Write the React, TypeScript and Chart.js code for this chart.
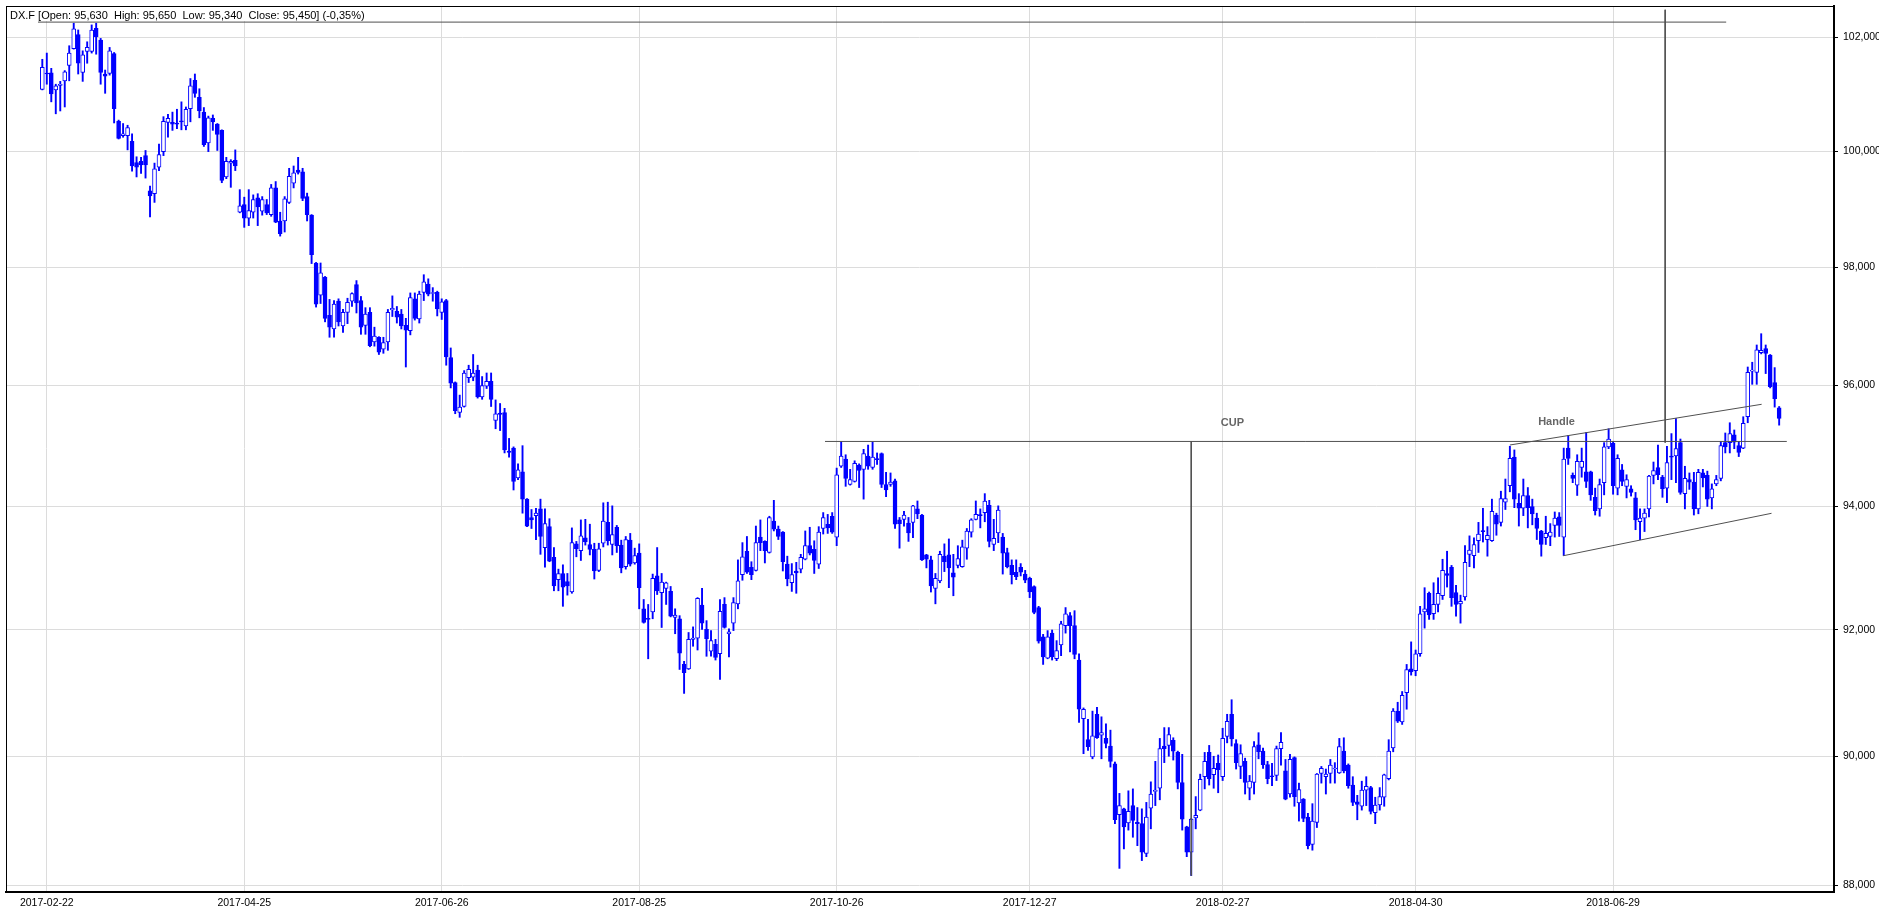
import React, { useEffect, useRef } from 'react';
import { Chart, registerables } from 'chart.js';

Chart.register(...registerables);

// ---- Daily OHLC of DX.F (one entry per trading day, oldest first) ----
const OPEN = [
  101.08, 101.36, 101.37, 101.07, 101.15, 101.23, 101.50, 101.80, 102.05, 101.38,
  101.75, 101.75, 102.16, 101.95, 101.35, 101.36, 101.71, 100.52, 100.27, 100.27,
  100.17, 99.80, 99.82, 99.92, 99.31, 99.26, 99.72, 99.99, 100.50, 100.50,
  100.48, 100.52, 100.44, 100.74, 101.24, 100.94, 100.68, 100.14, 100.57, 100.47,
  100.36, 99.55, 99.79, 99.84, 98.94, 99.07, 98.84, 98.94, 99.19, 98.96,
  99.07, 98.90, 99.36, 98.79, 98.79, 99.11, 99.44, 99.67, 99.64, 99.21,
  98.89, 98.07, 97.52, 97.83, 97.18, 96.95, 97.42, 97.00, 97.23, 97.42,
  97.70, 97.43, 97.01, 97.23, 96.73, 96.81, 96.61, 96.73, 97.27, 97.25,
  97.20, 97.01, 96.92, 97.46, 97.12, 97.57, 97.71, 97.55, 97.57, 97.23,
  97.43, 96.47, 96.05, 95.55, 95.65, 96.13, 96.14, 96.26, 95.81, 95.99,
  96.07, 95.42, 95.54, 95.55, 94.91, 94.96, 94.47, 94.57, 94.12, 93.82,
  93.85, 93.96, 93.33, 93.67, 93.17, 92.81, 92.91, 92.78, 92.61, 93.39,
  93.28, 93.49, 93.38, 93.30, 92.96, 93.40, 93.74, 93.38, 93.66, 93.37,
  93.02, 93.45, 93.08, 93.24, 92.34, 92.18, 92.29, 92.87, 92.60, 92.67,
  92.62, 92.20, 92.18, 91.45, 91.38, 91.85, 91.87, 92.40, 92.01, 91.66,
  91.77, 91.62, 92.41, 91.94, 92.11, 92.42, 92.89, 93.27, 93.01, 92.96,
  93.50, 93.43, 93.25, 93.76, 93.63, 93.58, 93.06, 92.76, 92.95, 92.98,
  93.14, 93.36, 93.30, 93.06, 93.64, 93.71, 93.84, 93.50, 94.66, 94.78,
  94.36, 94.41, 94.68, 94.61, 94.83, 94.64, 94.78, 94.87, 94.36, 94.36,
  94.42, 93.78, 93.79, 93.73, 93.74, 93.96, 93.86, 93.21, 93.13, 92.67,
  92.79, 93.19, 93.21, 92.92, 93.04, 93.02, 93.32, 93.58, 93.79, 93.86,
  93.90, 94.02, 93.38, 93.57, 93.50, 93.25, 93.04, 92.93, 93.01, 92.90,
  92.83, 92.70, 92.36, 91.89, 91.55, 91.95, 91.54, 91.76, 92.07, 92.23,
  92.07, 91.52, 90.59, 90.26, 89.99, 90.66, 90.33, 90.28, 90.16, 89.88,
  89.09, 89.18, 88.96, 89.23, 88.97, 88.95, 88.49, 89.19, 89.45, 89.50,
  90.16, 90.17, 90.25, 90.06, 89.59, 88.90, 88.51, 89.04, 89.16, 89.68,
  90.06, 89.71, 89.89, 89.68, 90.31, 90.66, 90.20, 89.84, 89.92, 89.50,
  89.59, 90.18, 90.08, 89.87, 89.69, 89.70, 90.12, 89.77, 89.41, 89.98,
  89.27, 89.33, 89.05, 88.63, 88.97, 89.73, 89.68, 89.73, 89.80, 89.74,
  90.08, 89.86, 89.55, 89.29, 89.22, 89.47, 89.51, 89.12, 89.24, 89.36,
  89.65, 90.13, 90.71, 90.54, 91.00, 91.38, 91.35, 91.62, 92.29, 92.59,
  92.26, 92.41, 92.55, 92.91, 93.01, 92.60, 92.42, 92.53, 93.22, 93.20,
  93.44, 93.60, 93.46, 93.44, 93.86, 93.74, 94.07, 94.34, 94.81, 94.05,
  93.97, 94.18, 94.00, 93.81, 93.60, 93.49, 93.51, 93.69, 93.83, 93.50,
  94.96, 94.51, 94.35, 94.64, 94.57, 94.57, 94.15, 93.96, 94.39, 94.98,
  95.04, 94.30, 94.60, 94.33, 94.29, 94.14, 93.75, 93.81, 93.96, 94.51,
  94.64, 94.48, 94.30, 94.83, 94.83, 95.05, 94.21, 94.44, 94.40, 93.96,
  94.55, 94.51, 94.14, 94.37, 94.46, 95.05, 95.05, 95.18, 95.00, 94.96,
  95.48, 96.24, 96.22, 96.55, 96.62, 96.51, 96.05, 95.63,
];

const HIGH = [
  101.61, 101.72, 101.45, 101.17, 101.22, 101.41, 101.85, 102.25, 102.13, 101.76,
  101.92, 102.22, 102.25, 101.98, 101.42, 101.82, 101.73, 100.54, 100.48, 100.45,
  100.30, 99.90, 99.89, 100.01, 99.39, 99.79, 100.12, 100.60, 100.64, 100.68,
  100.73, 100.86, 100.77, 101.27, 101.35, 101.09, 100.76, 100.61, 100.63, 100.48,
  100.37, 99.89, 99.85, 100.02, 99.33, 99.20, 99.33, 99.24, 99.26, 99.21,
  99.16, 99.42, 99.47, 98.94, 99.21, 99.70, 99.74, 99.89, 99.70, 99.27,
  98.90, 98.08, 98.07, 97.84, 97.45, 97.43, 97.46, 97.28, 97.47, 97.56,
  97.77, 97.50, 97.31, 97.31, 96.98, 96.82, 96.81, 97.28, 97.51, 97.33,
  97.28, 97.13, 97.56, 97.56, 97.59, 97.87, 97.80, 97.65, 97.59, 97.46,
  97.45, 96.63, 96.06, 95.84, 96.25, 96.34, 96.52, 96.34, 96.15, 96.21,
  96.21, 95.76, 95.70, 95.62, 95.12, 94.98, 94.70, 95.00, 94.13, 93.95,
  93.97, 94.12, 93.96, 93.80, 93.33, 92.98, 93.05, 92.91, 93.65, 93.43,
  93.78, 93.79, 93.71, 93.40, 93.40, 94.06, 94.07, 94.01, 93.69, 93.45,
  93.51, 93.56, 93.32, 93.39, 92.49, 92.41, 92.90, 93.33, 92.91, 92.77,
  92.70, 92.34, 92.23, 91.50, 91.96, 92.05, 92.52, 92.67, 92.15, 91.99,
  91.85, 92.49, 92.52, 92.02, 92.52, 93.13, 93.41, 93.51, 93.10, 93.68,
  93.78, 93.44, 93.84, 94.10, 93.68, 93.59, 93.19, 93.07, 93.09, 93.22,
  93.60, 93.66, 93.44, 93.67, 93.90, 93.87, 93.90, 94.63, 95.07, 94.85,
  94.61, 94.75, 94.70, 94.94, 95.01, 95.06, 94.88, 94.88, 94.56, 94.55,
  94.45, 93.82, 93.92, 93.82, 94.02, 94.09, 93.87, 93.22, 93.19, 92.91,
  93.27, 93.39, 93.47, 93.22, 93.36, 93.45, 93.64, 93.80, 94.09, 93.96,
  94.21, 94.10, 93.79, 94.01, 93.56, 93.32, 93.13, 93.13, 93.07, 92.96,
  92.85, 92.71, 92.38, 91.93, 91.99, 92.00, 91.83, 92.14, 92.36, 92.28,
  92.31, 91.62, 90.76, 90.58, 90.71, 90.77, 90.62, 90.51, 90.41, 89.91,
  89.42, 89.19, 89.46, 89.49, 89.20, 89.18, 89.28, 89.60, 89.92, 90.28,
  90.45, 90.45, 90.29, 90.08, 90.03, 88.91, 89.03, 89.37, 89.72, 90.06,
  90.17, 90.00, 90.02, 90.44, 90.66, 90.89, 90.26, 90.18, 89.97, 89.70,
  90.23, 90.37, 90.13, 89.92, 89.89, 90.16, 90.37, 89.95, 90.03, 89.99,
  89.58, 89.34, 89.11, 89.26, 89.73, 89.84, 89.80, 89.95, 89.90, 90.28,
  90.29, 89.88, 89.68, 89.39, 89.61, 89.68, 89.53, 89.36, 89.51, 89.72,
  90.26, 90.75, 90.85, 91.02, 91.45, 91.81, 91.68, 92.38, 92.68, 92.61,
  92.76, 92.84, 93.14, 93.27, 93.04, 92.72, 92.56, 93.36, 93.52, 93.49,
  93.74, 93.97, 93.67, 94.12, 93.89, 94.25, 94.45, 94.99, 94.93, 94.21,
  94.45, 94.31, 94.12, 93.89, 93.61, 93.84, 93.72, 93.91, 93.90, 94.96,
  95.17, 94.55, 94.85, 94.96, 95.22, 94.58, 94.30, 94.45, 95.05, 95.28,
  95.07, 94.85, 94.69, 94.52, 94.34, 94.23, 93.96, 93.96, 94.51, 94.73,
  95.01, 94.51, 94.99, 95.20, 95.45, 95.11, 94.66, 94.55, 94.56, 94.61,
  94.61, 94.58, 94.37, 94.51, 95.07, 95.21, 95.38, 95.26, 95.07, 95.48,
  96.31, 96.39, 96.68, 96.87, 96.68, 96.52, 96.30, 95.65,
];

const LOW = [
  101.07, 101.17, 100.86, 100.65, 100.70, 100.77, 101.23, 101.79, 101.35, 101.22,
  101.54, 101.72, 101.70, 101.17, 101.01, 101.33, 100.49, 100.21, 100.24, 100.02,
  99.65, 99.55, 99.61, 99.53, 98.86, 99.11, 99.66, 99.92, 100.24, 100.36,
  100.39, 100.37, 100.37, 100.51, 100.94, 100.58, 100.08, 99.99, 100.36, 100.01,
  99.45, 99.52, 99.37, 99.66, 98.93, 98.68, 98.71, 98.84, 98.71, 98.89,
  98.90, 98.87, 98.76, 98.53, 98.60, 99.09, 99.36, 99.60, 99.14, 98.79,
  98.06, 97.32, 97.38, 97.07, 96.81, 96.81, 97.00, 96.89, 97.04, 97.33,
  97.22, 96.86, 96.86, 96.65, 96.66, 96.52, 96.54, 96.59, 97.16, 97.05,
  96.95, 96.31, 96.85, 97.10, 97.05, 97.43, 97.51, 97.42, 97.17, 97.11,
  96.34, 95.96, 95.53, 95.47, 95.64, 96.05, 96.08, 95.79, 95.77, 95.95,
  95.65, 95.28, 95.25, 94.88, 94.81, 94.27, 94.44, 93.89, 93.67, 93.64,
  93.46, 93.22, 93.01, 93.10, 92.63, 92.63, 92.38, 92.56, 92.59, 93.18,
  93.12, 93.37, 93.21, 92.82, 92.94, 93.34, 93.37, 93.21, 93.25, 92.92,
  92.98, 93.03, 93.06, 92.34, 92.11, 91.54, 92.18, 92.57, 92.04, 92.41,
  92.21, 91.94, 91.37, 90.99, 91.37, 91.74, 91.68, 92.01, 91.58, 91.58,
  91.52, 91.21, 92.03, 91.57, 91.99, 92.34, 92.80, 92.91, 92.81, 92.95,
  93.28, 93.08, 93.24, 93.60, 93.46, 92.95, 92.71, 92.62, 92.59, 92.92,
  93.13, 93.21, 92.91, 92.99, 93.55, 93.56, 93.56, 93.36, 94.64, 94.33,
  94.35, 94.40, 94.31, 94.12, 94.61, 94.61, 94.69, 94.31, 94.16, 94.33,
  93.64, 93.32, 93.68, 93.43, 93.49, 93.80, 93.12, 93.00, 92.61, 92.42,
  92.76, 92.94, 92.68, 92.55, 93.00, 93.01, 93.14, 93.50, 93.78, 93.65,
  93.75, 93.34, 93.28, 93.41, 92.90, 93.00, 92.74, 92.81, 92.87, 92.76,
  92.52, 92.26, 91.79, 91.45, 91.54, 91.52, 91.51, 91.59, 91.95, 91.65,
  91.54, 90.53, 90.04, 90.09, 89.96, 90.28, 89.96, 90.13, 89.83, 88.95,
  88.26, 88.56, 88.85, 88.74, 88.61, 88.38, 88.44, 88.87, 89.23, 89.32,
  89.90, 90.00, 89.94, 89.49, 88.85, 88.44, 88.15, 88.87, 89.15, 89.49,
  89.55, 89.50, 89.43, 89.62, 90.21, 90.16, 89.80, 89.65, 89.41, 89.32,
  89.41, 89.96, 89.81, 89.57, 89.54, 89.62, 89.86, 89.32, 89.36, 89.22,
  88.99, 88.98, 88.56, 88.54, 88.89, 89.58, 89.41, 89.58, 89.58, 89.73,
  89.74, 89.50, 89.23, 89.01, 89.16, 89.23, 89.10, 88.95, 89.16, 89.22,
  89.63, 90.07, 90.53, 90.50, 90.74, 91.28, 91.27, 91.58, 92.03, 92.17,
  92.17, 92.29, 92.49, 92.69, 92.38, 92.22, 92.11, 92.48, 93.02, 93.00,
  93.25, 93.42, 93.19, 93.43, 93.53, 93.68, 93.95, 94.24, 93.98, 93.68,
  93.85, 93.65, 93.70, 93.46, 93.19, 93.38, 93.36, 93.50, 93.51, 93.20,
  94.69, 94.39, 94.18, 94.48, 94.31, 94.10, 93.86, 93.84, 94.19, 94.95,
  94.20, 94.19, 94.34, 94.14, 94.17, 93.62, 93.46, 93.59, 93.83, 94.37,
  94.44, 94.15, 94.06, 94.44, 94.39, 94.20, 93.96, 94.28, 93.86, 93.88,
  94.32, 94.00, 93.96, 94.34, 94.42, 94.88, 94.88, 94.95, 94.82, 94.95,
  95.38, 96.02, 96.02, 96.53, 96.20, 95.96, 95.64, 95.34,
];

const CLOSE = [
  101.47, 101.35, 101.00, 101.14, 101.17, 101.39, 101.72, 102.15, 101.54, 101.69,
  101.82, 102.13, 102.01, 101.38, 101.31, 101.76, 100.74, 100.22, 100.30, 100.41,
  99.74, 99.72, 99.76, 99.76, 99.22, 99.69, 99.94, 100.52, 100.57, 100.47,
  100.47, 100.51, 100.73, 101.14, 101.01, 100.70, 100.11, 100.58, 100.51, 100.29,
  99.49, 99.82, 99.82, 99.74, 99.05, 98.84, 98.97, 99.16, 99.03, 99.16,
  98.93, 99.36, 98.77, 98.57, 99.17, 99.56, 99.62, 99.63, 99.18, 98.90,
  98.21, 97.37, 97.90, 97.13, 96.98, 97.37, 97.07, 97.23, 97.40, 97.55,
  97.39, 96.98, 97.20, 96.67, 96.83, 96.56, 96.72, 97.23, 97.30, 97.15,
  97.00, 96.93, 97.48, 97.13, 97.54, 97.75, 97.54, 97.56, 97.29, 97.41,
  96.48, 96.04, 95.58, 95.64, 96.21, 96.27, 96.21, 95.81, 96.00, 96.07,
  95.77, 95.53, 95.52, 94.93, 94.89, 94.41, 94.60, 94.12, 93.68, 93.78,
  93.89, 93.51, 93.72, 93.11, 92.71, 92.91, 92.69, 92.71, 93.41, 93.31,
  93.52, 93.42, 93.30, 92.95, 93.31, 93.76, 93.44, 93.54, 93.36, 93.00,
  93.46, 93.06, 93.20, 92.68, 92.12, 92.17, 92.83, 92.63, 92.77, 92.76,
  92.22, 92.24, 91.63, 91.32, 91.85, 91.87, 92.51, 92.11, 91.86, 91.83,
  91.56, 92.30, 92.04, 91.97, 92.44, 92.79, 93.18, 92.93, 92.89, 93.41,
  93.41, 93.28, 93.82, 93.63, 93.51, 93.10, 92.82, 92.89, 92.92, 93.17,
  93.36, 93.24, 93.12, 93.58, 93.82, 93.65, 93.58, 94.52, 94.83, 94.46,
  94.44, 94.71, 94.59, 94.87, 94.66, 94.81, 94.77, 94.36, 94.27, 94.40,
  93.71, 93.72, 93.86, 93.57, 94.01, 93.88, 93.13, 93.14, 92.71, 92.83,
  93.22, 93.10, 93.00, 92.85, 93.15, 93.34, 93.60, 93.78, 93.87, 93.85,
  94.09, 93.43, 93.48, 93.94, 93.24, 93.02, 92.89, 92.86, 92.93, 92.80,
  92.61, 92.28, 91.82, 91.57, 91.89, 91.57, 91.67, 92.10, 92.26, 92.07,
  91.61, 90.74, 90.74, 90.15, 90.32, 90.29, 90.37, 90.20, 89.92, 89.01,
  89.23, 88.90, 89.14, 89.00, 88.95, 88.51, 89.05, 89.41, 89.47, 90.12,
  90.12, 90.34, 90.08, 89.59, 89.02, 88.51, 89.02, 89.08, 89.64, 89.92,
  89.65, 89.81, 89.79, 90.28, 90.55, 90.27, 89.90, 90.04, 89.59, 89.61,
  90.15, 90.07, 89.87, 89.65, 89.68, 90.12, 90.22, 89.33, 89.95, 89.37,
  89.48, 89.03, 88.61, 88.99, 89.72, 89.81, 89.72, 89.86, 89.81, 90.15,
  89.77, 89.54, 89.28, 89.25, 89.47, 89.53, 89.14, 89.24, 89.37, 89.71,
  90.08, 90.71, 90.55, 90.96, 91.37, 91.33, 91.62, 92.26, 92.34, 92.24,
  92.41, 92.59, 92.96, 92.88, 92.52, 92.41, 92.46, 93.09, 93.29, 93.38,
  93.55, 93.59, 93.53, 93.92, 93.71, 94.13, 94.13, 94.79, 94.12, 93.97,
  94.18, 93.98, 93.88, 93.64, 93.38, 93.56, 93.58, 93.81, 93.69, 94.78,
  94.79, 94.46, 94.74, 94.74, 94.41, 94.19, 93.93, 94.36, 94.98, 95.11,
  94.34, 94.79, 94.41, 94.44, 94.23, 93.78, 93.81, 93.89, 94.50, 94.59,
  94.52, 94.29, 94.72, 94.81, 94.95, 94.23, 94.46, 94.40, 93.96, 94.56,
  94.47, 94.12, 94.29, 94.44, 95.00, 94.98, 95.20, 95.06, 94.89, 95.37,
  96.22, 96.26, 96.60, 96.59, 96.54, 95.98, 95.78, 95.45,
];

// ---- Axis ticks ----
const X_TICK_INDEX = [1, 45, 89, 133, 177, 220, 263, 306, 350];
const X_TICK_LABELS = [
  '2017-02-22', '2017-04-25', '2017-06-26', '2017-08-25', '2017-10-26',
  '2017-12-27', '2018-02-27', '2018-04-30', '2018-06-29',
];
const Y_TICKS = [88, 90, 92, 94, 96, 98, 100, 102];
const X_MIN = -8.09;
const X_MAX = 399.22;
const Y_MIN = 87.898;
const Y_MAX = 102.557;

// ---- Drawn annotation lines (bar index / price) ----
const LINE_X1 = [-0.96, 361.6, 174.4, 256.0, 327.0, 338.9];
const LINE_Y1 = [102.27, 102.49, 95.07, 95.07, 95.011, 93.197];
const LINE_X2 = [375.2, 361.6, 388.7, 256.0, 383.1, 385.3];
const LINE_Y2 = [102.27, 95.05, 95.07, 88.15, 95.687, 93.888];

// ---- Annotation texts ----
const NOTE_TEXT = ['CUP', 'Handle'];
const NOTE_X = [262.6, 333.3];
const NOTE_Y = [95.33, 95.34];

const HEADER = 'DX.F [Open: 95,630  High: 95,650  Low: 95,340  Close: 95,450] (-0,35%)';

const BLUE = '#0000ff';
const FONT = '"Liberation Sans", Arial, sans-serif';

const overlayPlugin = {
  id: 'overlay',
  afterDatasetsDraw(chart: any) {
    const { ctx, chartArea, scales } = chart;
    const xs = scales.x;
    const ys = scales.y;
    ctx.save();
    // frame
    ctx.strokeStyle = '#000';
    ctx.lineWidth = 1;
    ctx.strokeRect(chartArea.left + 0.5, chartArea.top + 0.5, chartArea.right - chartArea.left - 1, chartArea.bottom - chartArea.top - 1);
    // notes
    ctx.font = 'bold 11px ' + FONT;
    ctx.fillStyle = '#666666';
    ctx.textBaseline = 'alphabetic';
    ctx.textAlign = 'left';
    NOTE_TEXT.forEach((t, k) => {
      ctx.fillText(t, xs.getPixelForValue(NOTE_X[k]), ys.getPixelForValue(NOTE_Y[k]));
    });
    // header
    ctx.font = '11px ' + FONT;
    const w = ctx.measureText(HEADER).width;
    ctx.fillStyle = '#ffffff';
    ctx.fillRect(chartArea.left + 1, chartArea.top + 1, w + 6, 14);
    ctx.fillStyle = '#000000';
    ctx.fillText(HEADER, chartArea.left + 4, chartArea.top + 13);
    ctx.restore();
  },
};

export default function App() {
  const ref = useRef<HTMLCanvasElement>(null);

  useEffect(() => {
    document.body.style.margin = '0';
    document.body.style.overflow = 'hidden';
    const canvas = ref.current;
    if (!canvas) return;

    const idx = OPEN.map((_, i) => i);
    const lineSets = LINE_X1.map((x1, k) => ({
      type: 'line' as const,
      data: [
        { x: x1, y: LINE_Y1[k] },
        { x: LINE_X2[k], y: LINE_Y2[k] },
      ],
      borderColor: '#505050',
      borderWidth: 1,
      pointRadius: 0,
      fill: false,
      tension: 0,
      order: -1,
    }));

    const chart = new Chart(canvas, {
      type: 'bar',
      data: {
        datasets: [
          {
            type: 'bar',
            data: idx.map((i) => ({ x: i, y: [OPEN[i], CLOSE[i]] })) as any,
            backgroundColor: idx.map((i) => (CLOSE[i] >= OPEN[i] ? '#ffffff' : BLUE)),
            borderColor: BLUE,
            borderWidth: 1,
            borderSkipped: false,
            barThickness: 4,
            minBarLength: 1,
            grouped: false,
            order: 0,
          },
          {
            type: 'bar',
            data: idx.map((i) => ({ x: i, y: [LOW[i], HIGH[i]] })) as any,
            backgroundColor: BLUE,
            borderWidth: 0,
            barThickness: 1.25,
            grouped: false,
            order: 1,
          },
          ...lineSets,
        ] as any,
      },
      options: {
        animation: false,
        responsive: false,
        devicePixelRatio: 1,
        events: [],
        layout: { padding: { left: 6, top: 6, right: 0, bottom: 0 } },
        plugins: {
          legend: { display: false },
          tooltip: { enabled: false },
          title: { display: false },
        },
        scales: {
          x: {
            type: 'linear',
            min: X_MIN,
            max: X_MAX,
            bounds: 'data',
            offset: false,
            afterBuildTicks: (s: any) => {
              s.ticks = X_TICK_INDEX.map((v) => ({ value: v }));
            },
            afterFit: (s: any) => {
              s.height = 20;
              s.paddingLeft = 0;
              s.paddingRight = 0;
            },
            ticks: {
              autoSkip: false,
              maxRotation: 0,
              minRotation: 0,
              padding: 5,
              color: '#000',
              font: { family: FONT, size: 10.5 },
              callback: (_v: any, i: number) => X_TICK_LABELS[i],
            },
            grid: { color: '#dcdcdc', lineWidth: 1, drawTicks: false, offset: false },
            border: { display: true, color: '#000', width: 2 },
          },
          y: {
            type: 'logarithmic',
            position: 'right',
            min: Y_MIN,
            max: Y_MAX,
            bounds: 'data',
            afterBuildTicks: (s: any) => {
              s.ticks = Y_TICKS.map((v) => ({ value: v }));
            },
            afterFit: (s: any) => {
              s.width = 45;
              s.paddingTop = 0;
              s.paddingBottom = 0;
            },
            ticks: {
              autoSkip: false,
              padding: 5,
              color: '#000',
              font: { family: FONT, size: 10.5 },
              callback: (v: any) => Number(v).toFixed(3).replace('.', ','),
            },
            grid: { color: '#dcdcdc', lineWidth: 1, tickColor: '#000', tickLength: 4, drawTicks: true, offset: false },
            border: { display: true, color: '#000', width: 2 },
          },
        },
      } as any,
      plugins: [overlayPlugin],
    });

    return () => chart.destroy();
  }, []);

  return (
    <div style={{ width: 1879, height: 912, position: 'relative' }}>
      <canvas ref={ref} width={1879} height={912} style={{ display: 'block' }} />
    </div>
  );
}
